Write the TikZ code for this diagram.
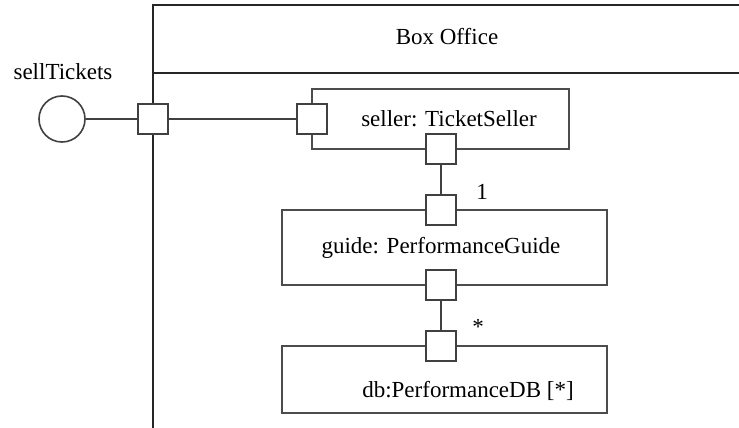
\documentclass[tikz,border=0pt]{standalone}
\usepackage{fontspec}
\setmainfont{Liberation Serif}
\begin{document}
\begin{tikzpicture}[x=1pt,y=-1pt,
  frame/.style={draw=black!85,line width=1.6pt},
  part/.style={draw=black!70,line width=1.6pt,rectangle,inner sep=0pt},
  portbox/.style={draw=black!75,fill=white,line width=1.6pt,rectangle,inner sep=0pt,minimum size=30pt},
  wire/.style={draw=black!75,line width=1.6pt},
  lbl/.style={inner sep=0pt,font=\fontsize{23}{27}\selectfont}]
\useasboundingbox (0,0) rectangle (739,428);

% enclosing component frame with its header compartment
\coordinate (ftl) at (153,5);
\coordinate (ftr) at (739,5);
\coordinate (fbl) at (153,428);
\coordinate (hl) at (153,73);
\coordinate (hr) at (739,73);
\draw[frame] (ftr) -- (ftl) -- (fbl);
\draw[frame] (hl) -- (hr);
\node[lbl] (title) at (447,37) {Box Office};

% provided interface
\node[draw=black!75,line width=1.6pt,circle,minimum size=46pt,inner sep=0pt] (iface) at (62,119) {};
\node[lbl,anchor=base] (ifacelbl) at (63,80) {sellTickets};

% parts
\node[part,minimum width=257pt,minimum height=60pt] (seller) at (440.5,119) {};
\node[lbl,anchor=base] (sellerlbl) at (449,126) {seller: TicketSeller};
\node[part,minimum width=325pt,minimum height=75pt] (guide) at (444.5,247.5) {};
\node[lbl,anchor=base] (guidelbl) at (441,253) {guide: PerformanceGuide};
\node[part,minimum width=325pt,minimum height=67pt] (db) at (444.5,379.5) {};
\node[lbl,anchor=base] (dblbl) at (468,397) {db:PerformanceDB [*]};

% ports
\node[portbox] (pouter) at (153,119) {};
\node[portbox] (psellerL) at (312,119) {};
\node[portbox] (psellerB) at (441,149) {};
\node[portbox] (pguideT) at (441,210) {};
\node[portbox] (pguideB) at (441,285) {};
\node[portbox] (pdbT) at (441,346) {};

% connectors
\draw[wire] (iface) -- (pouter);
\draw[wire] (pouter) -- (psellerL);
\draw[wire] (psellerB) -- (pguideT);
\draw[wire] (pguideB) -- (pdbT);

% multiplicities
\node[lbl,anchor=base] (m1) at (482,199) {1};
\node[lbl] (m2) at (478,327) {*};
\end{tikzpicture}
\end{document}
